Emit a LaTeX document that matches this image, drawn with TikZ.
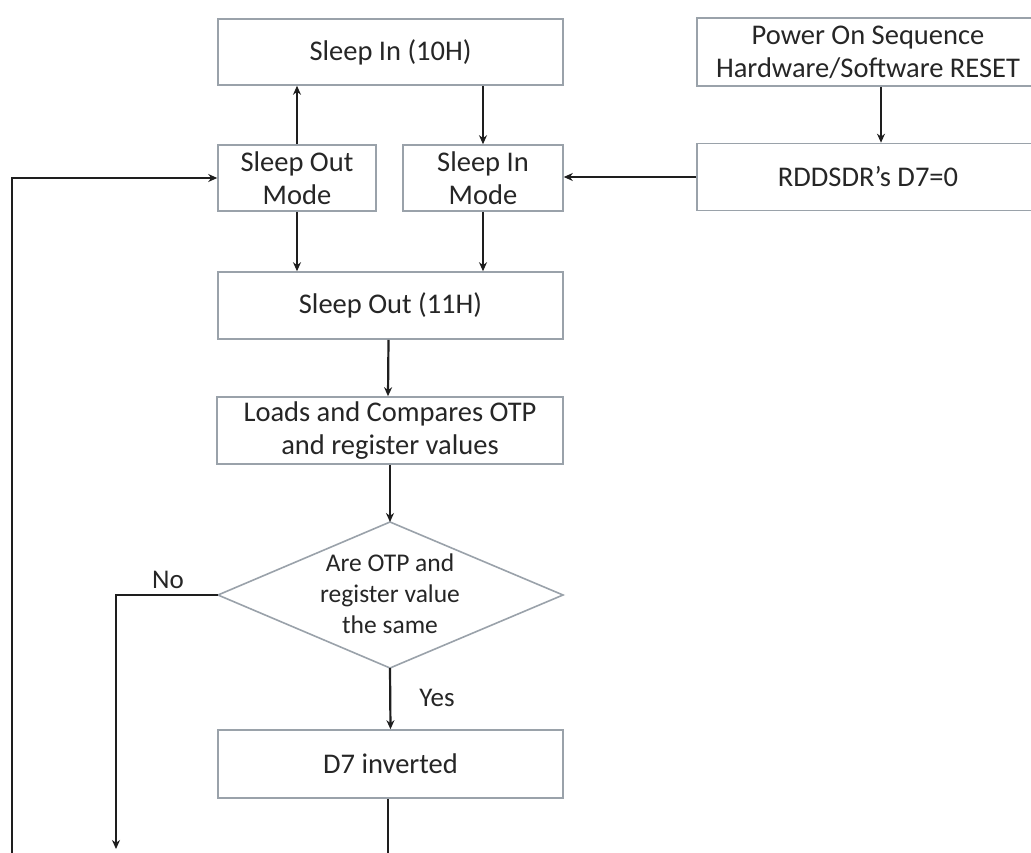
\documentclass[tikz,border=0pt]{standalone}
\usepackage{fontspec}
\setmainfont{Carlito}
\usetikzlibrary{arrows.meta,calc}
\definecolor{boxc}{HTML}{9AA2AA}
\definecolor{linec}{HTML}{1E1E1E}
\definecolor{txtc}{HTML}{262626}
\tikzset{
  box/.style={draw=boxc, line width=1.6pt, fill=white, text=txtc, align=center,
    inner sep=0pt, font=\fontsize{28.5}{33}\selectfont},
  dtext/.style={text=txtc, align=center, inner sep=0pt, font=\fontsize{25.5}{31}\selectfont},
  lbl/.style={text=txtc, inner sep=0pt, font=\fontsize{27}{31}\selectfont},
  dline/.style={draw=boxc, line width=1.6pt},
  arr/.style={draw=linec, line width=2.2pt, -{Stealth[length=9pt,width=8pt]}},
  ln/.style={draw=linec, line width=2.2pt},
}
\begin{document}
\begin{tikzpicture}[x=1pt,y=-1pt]
\clip (0,0) rectangle (1031,853);
\fill[white] (0,0) rectangle (1031,853);
% boxes
\node[box, minimum width=345pt, minimum height=66pt] (s10) at (390.5,52) {Sleep In (10H)};
\node[box, minimum width=158pt, minimum height=66pt] (som) at (297,178) {Sleep Out\\Mode};
\node[box, minimum width=160pt, minimum height=66pt] (sim) at (483,178) {Sleep In\\Mode};
\node[box, minimum width=342pt, minimum height=68pt] (pwr) at (868,52) {Power On Sequence\\Hardware/Software RESET};
\node[box, minimum width=342pt, minimum height=67pt] (rdd) at (868,177) {RDDSDR’s D7=0};
\node[box, minimum width=345pt, minimum height=67pt] (s11) at (390.5,305.5) {Sleep Out (11H)};
\node[box, minimum width=346pt, minimum height=67pt] (lds) at (390,430.5) {Loads and Compares OTP\\and register values};
% decision
\coordinate (dt) at (390,522);
\coordinate (db) at (390,668);
\coordinate (dl) at (218,595);
\coordinate (dr) at (563,595);
\draw[dline] (dt) -- (dr) -- (db) -- (dl) -- cycle;
\node[dtext] (dia) at (390,594) {Are OTP and\\register value\\the same};
\node[box, minimum width=345pt, minimum height=68pt] (d7) at (390.5,764) {D7 inverted};
% free ends
\coordinate (noturn) at (116,595);
\coordinate (noend) at (116,849);
\coordinate (lbot) at (12,853);
\coordinate (lturn) at (12,178);
\coordinate (d7end) at (388,853);
% connectors
\draw[arr] (som.north) -- (som.north |- s10.south);
\draw[arr] (sim.north |- s10.south) -- (sim.north);
\draw[arr] (som.south) -- (som.south |- s11.north);
\draw[arr] (sim.south) -- (sim.south |- s11.north);
\draw[arr] ($(pwr.south)+(13,0)$) -- ($(rdd.north)+(13,0)$);
\draw[arr] (rdd.west) -- (sim.east |- rdd.west);
\draw[arr] ($(s11.south)+(-2,0)$) -- ($(lds.north)+(-2,0)$);
\draw[arr] (lds.south) -- (dt);
\draw[arr] (db) -- (d7.north);
\draw[arr] (dl) -- (noturn) -- (noend);
\draw[ln] (d7.south -| d7end) -- (d7end);
\draw[arr] (lbot) -- (lturn) -- (som.west);
% labels
\node[lbl] (no) at (168,580) {No};
\node[lbl] (yes) at (437,698) {Yes};
\end{tikzpicture}
\end{document}
